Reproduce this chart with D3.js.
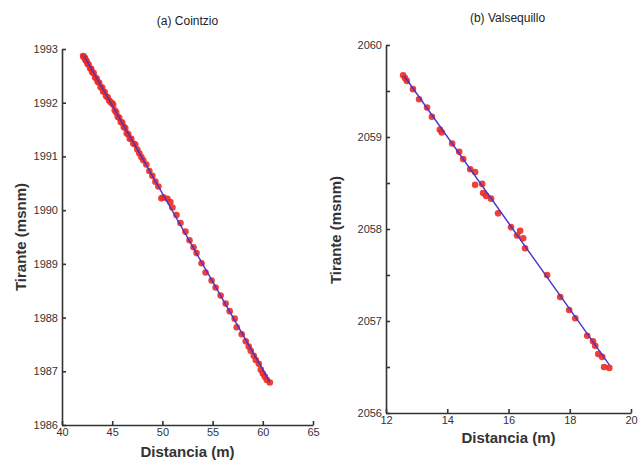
<!DOCTYPE html>
<html>
<head>
<meta charset="utf-8">
<script src="https://cdn.jsdelivr.net/npm/d3@7"></script>
<style>
  body { margin: 0; background: #fff; }
  svg { font-family: "Liberation Sans", Arial, sans-serif; }
  .tick text { fill: #333; font-size: 11px; }
  .domain, .tick line { stroke: #333; stroke-width: 1.6; }
</style>
</head>
<body>
<div id="chart"></div>
<script>
// (a) Cointzio - measured points
var cointzioX = [42.1, 42.15, 42.2, 42.3, 42.35, 42.45, 42.55, 42.65, 42.8, 42.9, 43.0, 43.15, 43.3, 43.45, 43.55, 43.7,
  43.85, 44.0, 44.1, 44.25, 44.4, 44.55, 44.7, 44.85, 45.0, 45.1, 45.25, 45.4, 45.55, 45.7, 45.85, 46.0, 46.15, 46.3,
  46.45, 46.6, 46.75, 46.9, 47.1, 47.3, 47.5, 47.7, 47.9, 48.1, 48.4, 48.7, 49.0, 49.3, 49.6, 49.9, 50.1, 50.5, 50.8,
  51.0, 51.4, 51.8, 52.3, 52.7, 53.1, 53.4, 53.9, 54.3, 54.9, 55.3, 55.8, 56.3, 56.7, 57.2, 57.4, 57.9, 58.3, 58.6,
  58.8, 59.1, 59.3, 59.6, 59.8, 60.0, 60.2, 60.4, 60.7];
var cointzioY = [1992.87, 1992.86, 1992.84, 1992.83, 1992.79, 1992.77, 1992.72, 1992.71, 1992.64, 1992.63, 1992.57,
  1992.55, 1992.47, 1992.45, 1992.39, 1992.37, 1992.29, 1992.28, 1992.21, 1992.20, 1992.12, 1992.10, 1992.04, 1992.01,
  1991.99, 1991.96, 1991.86, 1991.82, 1991.74, 1991.72, 1991.64, 1991.63, 1991.55, 1991.53, 1991.43, 1991.41, 1991.33,
  1991.33, 1991.24, 1991.22, 1991.13, 1991.06, 1990.99, 1990.93, 1990.85, 1990.73, 1990.64, 1990.53, 1990.44, 1990.22,
  1990.24, 1990.21, 1990.15, 1990.05, 1989.91, 1989.76, 1989.60, 1989.44, 1989.31, 1989.20, 1989.01, 1988.84, 1988.69,
  1988.56, 1988.41, 1988.26, 1988.12, 1987.98, 1987.82, 1987.69, 1987.56, 1987.46, 1987.38, 1987.29, 1987.21, 1987.14,
  1987.03, 1986.96, 1986.90, 1986.84, 1986.79];
var cointzioFitX = [42.2, 60.7];
var cointzioFitY = [1992.87, 1986.80];
var cointzioXTicks = [40, 45, 50, 55, 60, 65];
var cointzioYTicks = [1986, 1987, 1988, 1989, 1990, 1991, 1992, 1993];

// (b) Valsequillo - measured points
var valsequilloX = [12.56, 12.62, 12.68, 12.88, 13.08, 13.34, 13.5, 13.76, 13.82, 14.16, 14.39, 14.52, 14.75, 14.91,
  14.91, 15.14, 15.17, 15.27, 15.43, 15.66, 16.08, 16.38, 16.28, 16.48, 16.54, 17.26, 17.69, 17.98, 18.18, 18.57,
  18.76, 18.83, 18.93, 19.06, 19.12, 19.29];
var valsequilloY = [2059.67, 2059.64, 2059.61, 2059.52, 2059.41, 2059.32, 2059.22, 2059.08, 2059.05, 2058.93, 2058.84,
  2058.76, 2058.65, 2058.62, 2058.48, 2058.49, 2058.39, 2058.36, 2058.33, 2058.17, 2058.02, 2057.98, 2057.93, 2057.90,
  2057.79, 2057.50, 2057.26, 2057.12, 2057.03, 2056.84, 2056.78, 2056.73, 2056.64, 2056.61, 2056.50, 2056.49];
var valsequilloFitX = [12.6, 19.3];
var valsequilloFitY = [2059.66, 2056.52];
var valsequilloXTicks = [12, 14, 16, 18, 20];
var valsequilloYTicks = [2056, 2056.5, 2057, 2057.5, 2058, 2058.5, 2059, 2059.5, 2060];

var svg = d3.select("#chart").append("svg")
    .attr("width", 639)
    .attr("height", 462);

function panel(opt) {
    var x = d3.scaleLinear().domain(opt.xDomain).range([opt.box.xmin, opt.box.xmax]);
    var y = d3.scaleLinear().domain(opt.yDomain).range([opt.box.ymax, opt.box.ymin]);

    var pts = opt.xs.map(function(d, i) { return [d, opt.ys[i]]; });

    svg.append("g").selectAll("circle")
        .data(pts)
        .enter().append("circle")
            .attr("cx", function(d) { return x(d[0]); })
            .attr("cy", function(d) { return y(d[1]); })
            .attr("r", 3.3)
            .attr("fill", "#ec2a22")
            .attr("fill-opacity", 0.9);

    // fitted line on top of the points
    svg.append("line")
        .attr("x1", x(opt.fitX[0]))
        .attr("y1", y(opt.fitY[0]))
        .attr("x2", x(opt.fitX[1]))
        .attr("y2", y(opt.fitY[1]))
        .attr("stroke", "#4a32c4")
        .attr("stroke-width", 1.4);

    // axes, ticks pointing inward
    svg.append("g")
        .attr("transform", "translate(0," + opt.box.ymax + ")")
        .call(d3.axisBottom(x).tickValues(opt.xTicks).tickSizeInner(-4).tickSizeOuter(0).tickPadding(3)
            .tickFormat(d3.format("d")));

    svg.append("g")
        .attr("transform", "translate(" + opt.box.xmin + ",0)")
        .call(d3.axisLeft(y).tickValues(opt.yTicks).tickSizeInner(-4).tickSizeOuter(0).tickPadding(4)
            .tickFormat(function(d) { return d % 1 === 0 ? d : ""; }));

    var cx = (opt.box.xmin + opt.box.xmax) / 2;

    svg.append("text")
        .attr("x", cx + opt.titleDx)
        .attr("y", opt.titleY)
        .attr("text-anchor", "middle")
        .style("font-size", "12px")
        .attr("fill", "#222")
        .text(opt.title);

    svg.append("text")
        .attr("x", cx)
        .attr("y", opt.box.ymax + opt.xLabelDy)
        .attr("text-anchor", "middle")
        .style("font-size", "15px")
        .style("font-weight", "bold")
        .attr("fill", "#333")
        .text("Distancia (m)");

    svg.append("text")
        .attr("transform", "translate(" + opt.yLabelX + "," + opt.yLabelY + ") rotate(-90)")
        .attr("text-anchor", "middle")
        .style("font-size", "15px")
        .style("font-weight", "bold")
        .attr("fill", "#333")
        .text("Tirante (msnm)");
}

panel({
    box: {xmin: 62, xmax: 313, ymin: 49, ymax: 425},
    xDomain: [40, 65], yDomain: [1986, 1993],
    xs: cointzioX, ys: cointzioY, fitX: cointzioFitX, fitY: cointzioFitY,
    xTicks: cointzioXTicks, yTicks: cointzioYTicks,
    title: "(a) Cointzio", titleDx: 0, titleY: 25,
    xLabelDy: 32, yLabelX: 26, yLabelY: 237
});

panel({
    box: {xmin: 386, xmax: 631, ymin: 45, ymax: 413},
    xDomain: [12, 20], yDomain: [2056, 2060],
    xs: valsequilloX, ys: valsequilloY, fitX: valsequilloFitX, fitY: valsequilloFitY,
    xTicks: valsequilloXTicks, yTicks: valsequilloYTicks,
    title: "(b) Valsequillo", titleDx: -1, titleY: 22,
    xLabelDy: 30, yLabelX: 341, yLabelY: 230
});
</script>
</body>
</html>
